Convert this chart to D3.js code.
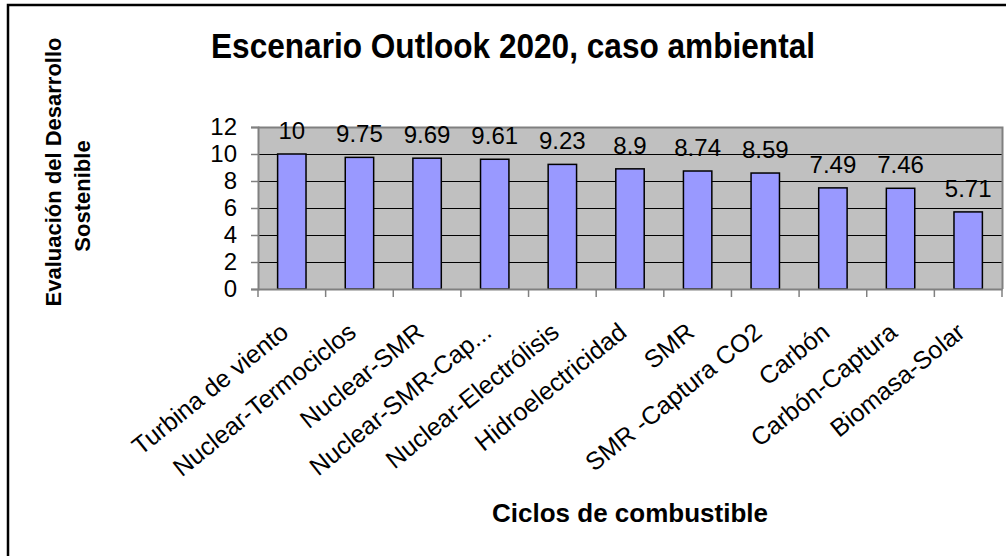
<!DOCTYPE html>
<html>
<head>
<meta charset="utf-8">
<script src="https://cdn.jsdelivr.net/npm/d3@7"></script>
<style>
  html, body { margin: 0; padding: 0; background: #fff; }
  svg { display: block; font-family: Arial, "Liberation Sans", sans-serif; }
</style>
</head>
<body>
<svg id="chart" width="1006" height="556"></svg>
<script>
const categories = ["Turbina de viento", "Nuclear-Termociclos", "Nuclear-SMR", "Nuclear-SMR-Cap...", "Nuclear-Electrólisis", "Hidroelectricidad", "SMR", "SMR -Captura CO2", "Carbón", "Carbón-Captura", "Biomasa-Solar"];
const values = [10, 9.75, 9.69, 9.61, 9.23, 8.9, 8.74, 8.59, 7.49, 7.46, 5.71];
const yTicks = [0, 2, 4, 6, 8, 10, 12];
const titleText = "Escenario Outlook 2020, caso ambiental";
const xTitle = "Ciclos de combustible";
const yTitleLines = ["Evaluación del Desarrollo", "Sostenible"];

const svg = d3.select("#chart");
const plot = { left: 258, right: 1002, top: 127, bottom: 289 };

// outer border
svg.append("rect").attr("x", 8).attr("y", 5).attr("width", 1010).attr("height", 560)
  .attr("fill", "#fff").attr("stroke", "#000").attr("stroke-width", 2.5);

const x = d3.scaleBand().domain(categories).range([plot.left, plot.right]).paddingInner(0).paddingOuter(0);
const y = d3.scaleLinear().domain([0, 12]).range([plot.bottom, plot.top]);

// plot background
svg.append("rect").attr("x", plot.left).attr("y", plot.top)
  .attr("width", plot.right - plot.left).attr("height", plot.bottom - plot.top)
  .attr("fill", "#C0C0C0");

// gridlines
svg.append("g").selectAll("line").data(yTicks.filter(t => t > 0 && t < 12)).join("line")
  .attr("x1", plot.left).attr("x2", plot.right)
  .attr("y1", d => y(d) + 0.5).attr("y2", d => y(d) + 0.5)
  .attr("stroke", "#000").attr("stroke-width", 1);

// plot border top/right
svg.append("path")
  .attr("d", `M${plot.left},${plot.top + 0.5}H${plot.right + 0.5}V${plot.bottom}`)
  .attr("fill", "none").attr("stroke", "#808080").attr("stroke-width", 2);

// bars
const bw = x.bandwidth() * 0.42;
svg.append("g").selectAll("rect").data(values).join("rect")
  .attr("x", (d, i) => x(categories[i]) + (x.bandwidth() - bw) / 2)
  .attr("y", d => y(d))
  .attr("width", bw)
  .attr("height", d => y(0) - y(d))
  .attr("fill", "#9999FF").attr("stroke", "#000").attr("stroke-width", 1.5);

// y axis
const yAxis = svg.append("g").attr("transform", `translate(${plot.left},0)`)
  .call(d3.axisLeft(y).tickValues(yTicks).tickSize(7).tickPadding(14).tickFormat(d3.format("d")));
yAxis.select(".domain").attr("stroke", "#808080").attr("stroke-width", 2);
yAxis.selectAll(".tick line").attr("stroke", "#808080").attr("stroke-width", 1.5);
yAxis.selectAll(".tick text").attr("font-size", 24).attr("fill", "#000")
  .attr("font-family", "Arial, 'Liberation Sans', sans-serif");

// x axis
const xAxis = svg.append("g").attr("transform", `translate(0,${plot.bottom})`)
  .call(d3.axisBottom(x).tickSize(0).tickFormat(""));
xAxis.select(".domain").attr("stroke", "#808080").attr("stroke-width", 2);
const bounds = d3.range(categories.length + 1).map(i => plot.left + i * x.step());
xAxis.selectAll(".btick").data(bounds).join("line").attr("class", "btick")
  .attr("x1", d => d).attr("x2", d => d).attr("y1", 0).attr("y2", 8)
  .attr("stroke", "#808080").attr("stroke-width", 1.5);

// category labels
const angle = -39;
svg.append("g").selectAll("text").data(categories).join("text")
  .attr("transform", d => `translate(${x(d) + x.bandwidth() / 2 - 13},${plot.bottom + 32}) rotate(${angle})`)
  .attr("text-anchor", "end")
  .attr("dy", "0.72em")
  .attr("font-size", 25)
  .attr("fill", "#000")
  .text(d => d);

// value labels
svg.append("g").selectAll("text").data(values).join("text")
  .attr("x", (d, i) => x(categories[i]) + x.bandwidth() / 2)
  .attr("y", d => y(d) - 15)
  .attr("text-anchor", "middle")
  .attr("font-size", 24)
  .attr("fill", "#000")
  .text(d => d);

// title
svg.append("text").attr("x", 513).attr("y", 58).attr("text-anchor", "middle")
  .attr("font-size", 35).attr("font-weight", "bold")
  .attr("textLength", 604).attr("lengthAdjust", "spacingAndGlyphs").text(titleText);

// x title
svg.append("text").attr("x", 630).attr("y", 522).attr("text-anchor", "middle")
  .attr("font-size", 26).attr("font-weight", "bold").text(xTitle);

// y title
const yt = svg.append("text").attr("transform", "translate(61,172) rotate(-90)")
  .attr("text-anchor", "middle").attr("font-size", 22).attr("font-weight", "bold");
yTitleLines.forEach((t, i) => {
  yt.append("tspan").attr("x", -i * 24).attr("y", i * 29).text(t);
});
</script>
</body>
</html>
